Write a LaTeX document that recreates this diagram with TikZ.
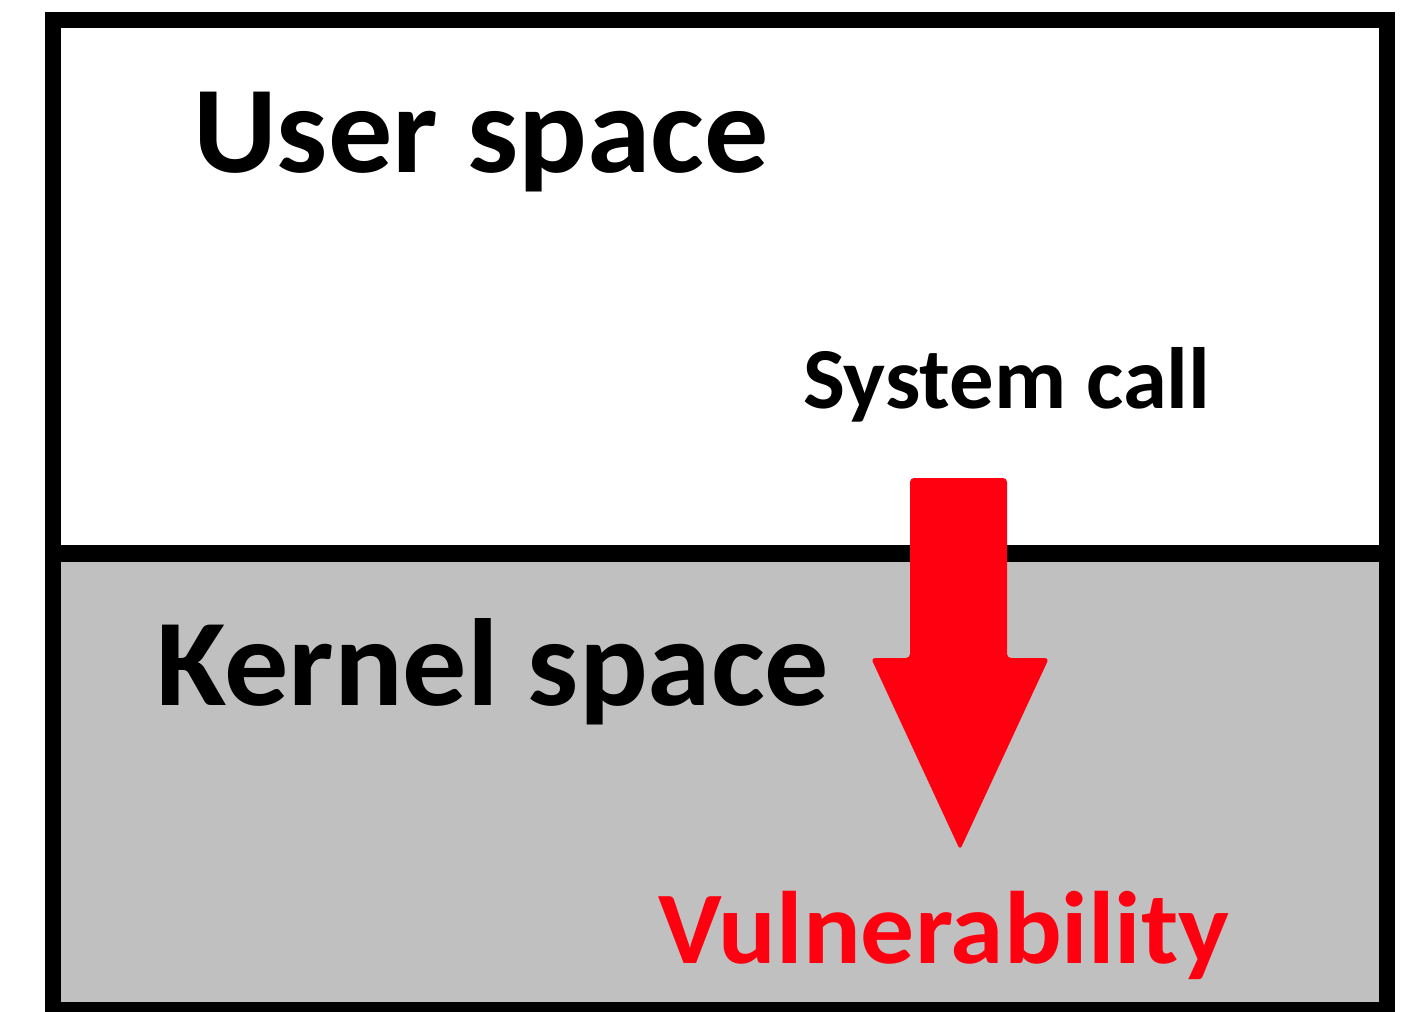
\documentclass[tikz,border=0pt]{standalone}
\usepackage{fontspec}
\setmainfont{Carlito}
\definecolor{kernelgray}{HTML}{C0C0C0}
\definecolor{vulnred}{HTML}{FF0010}
\begin{document}
\begin{tikzpicture}[x=1pt,y=-1pt,
  frame/.style={draw=black,line width=16pt},
  divider/.style={draw=black,line width=17pt},
  label/.style={anchor=base west,inner sep=0pt,transform shape},
  bigtitle/.style={label,xscale=1.034,font=\fontsize{124}{124}\selectfont\bfseries},
  calllabel/.style={label,xscale=1.02,font=\fontsize{87}{87}\selectfont\bfseries},
  vulnlabel/.style={label,xscale=1.045,text=vulnred,font=\fontsize{103}{103}\selectfont\bfseries},
  blockarrow/.style={fill=vulnred,rounded corners=4pt}]
\useasboundingbox (0,0) rectangle (1404,1011);
% kernel half shaded
\fill[kernelgray] (53,553.5) rectangle (1386.5,1010);
% outer frame and user/kernel boundary
\draw[frame] (53,20) rectangle (1386.5,1010);
\draw[divider] (45,553.5) -- (1394.5,553.5);
% labels
\node[bigtitle] (user) at (193,173) {User space};
\node[bigtitle] (kernel) at (156,705) {Kernel space};
\node[calllabel] (syscall) at (803,408) {System call};
\node[vulnlabel] (vuln) at (658,963) {Vulnerability};
% system call arrow crossing into the kernel
\fill[blockarrow] (910,478) -- (1007,478) -- (1007,658) -- (1049,658)
  -- (960,850) -- (871,658) -- (910,658) -- cycle;
\end{tikzpicture}
\end{document}
